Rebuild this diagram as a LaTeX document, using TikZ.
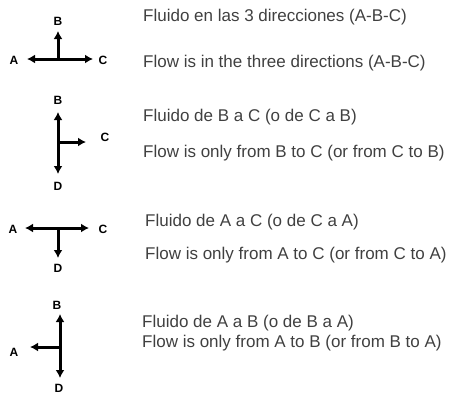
\documentclass[tikz,border=0pt]{standalone}
\usepackage{fontspec}
\setmainfont{Liberation Sans}
\usetikzlibrary{arrows.meta}
\begin{document}
\begin{tikzpicture}[x=1pt,y=-1pt,
  lbl/.style={font=\fontsize{12}{12}\selectfont\bfseries, inner sep=0pt},
  txt/.style={font=\fontsize{17}{17}\selectfont, text=black!75, anchor=west, inner sep=0pt},
  flow/.style={line width=3pt, -{Latex[length=8pt,width=9pt]}}]
\useasboundingbox (0,0) rectangle (450,394);
% Diagram 1
\coordinate (j1) at (58,59);
\node[lbl] (b1) at (58,21) {B};
\node[lbl] (a1) at (14,60) {A};
\node[lbl] (c1) at (103,60) {C};
\coordinate (b1t) at (58,31);
\coordinate (a1t) at (27,59);
\coordinate (c1t) at (93,59);
\draw[flow] (j1) -- (b1t);
\draw[flow] (j1) -- (a1t);
\draw[flow] (j1) -- (c1t);
\node[txt] (t1a) at (143,17) {Fluido en las 3 direcciones (A-B-C)};
\node[txt] (t1b) at (143,63) {Flow is in the three directions (A-B-C)};
% Diagram 2
\coordinate (j2) at (58,142);
\node[lbl] (b2) at (58,100) {B};
\node[lbl] (c2) at (105,137) {C};
\node[lbl] (d2) at (58,186) {D};
\coordinate (b2t) at (58,112);
\coordinate (d2t) at (58,174);
\coordinate (c2t) at (86,142);
\draw[flow] (j2) -- (b2t);
\draw[flow] (j2) -- (d2t);
\draw[flow] (j2) -- (c2t);
\node[txt] (t2a) at (143,117) {Fluido de B a C (o de C a B)};
\node[txt] (t2b) at (143,153) {Flow is only from B to C (or from C to B)};
% Diagram 3
\coordinate (j3) at (58,228);
\node[lbl] (a3) at (13,229) {A};
\node[lbl] (c3) at (103,229) {C};
\node[lbl] (d3) at (58,268) {D};
\coordinate (a3t) at (25,228);
\coordinate (c3t) at (89,228);
\coordinate (d3t) at (58,258);
\draw[flow] (j3) -- (a3t);
\draw[flow] (j3) -- (c3t);
\draw[flow] (j3) -- (d3t);
\node[txt] (t3a) at (145,222) {Fluido de A a C (o de C a A)};
\node[txt] (t3b) at (145,255) {Flow is only from A to C (or from C to A)};
% Diagram 4
\coordinate (j4) at (60,347);
\node[lbl] (b4) at (57,305) {B};
\node[lbl] (a4) at (14,352) {A};
\node[lbl] (d4) at (59,388) {D};
\coordinate (b4t) at (60,314);
\coordinate (d4t) at (60,378);
\coordinate (a4t) at (30,347);
\draw[flow] (j4) -- (b4t);
\draw[flow] (j4) -- (d4t);
\draw[flow] (j4) -- (a4t);
\node[txt] (t4a) at (142,323) {Fluido de A a B (o de B a A)};
\node[txt] (t4b) at (142,343) {Flow is only from A to B (or from B to A)};
\end{tikzpicture}
\end{document}
